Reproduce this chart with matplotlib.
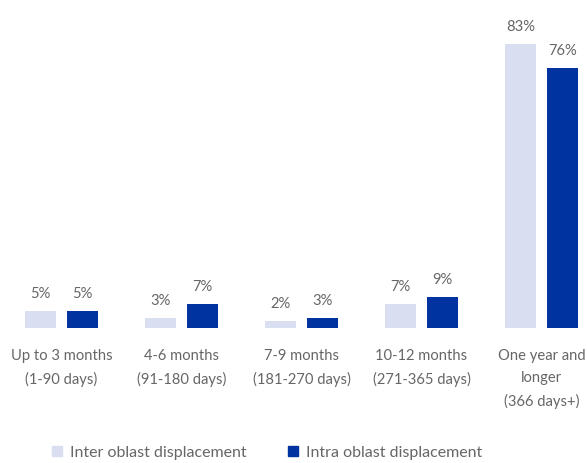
import matplotlib

matplotlib.use("Agg")
import matplotlib.pyplot as plt
import numpy as np
from matplotlib.patches import Patch

categories = [
    "Up to 3 months\n(1-90 days)",
    "4-6 months\n(91-180 days)",
    "7-9 months\n(181-270 days)",
    "10-12 months\n(271-365 days)",
    "One year and\nlonger\n(366 days+)",
]
inter_oblast = [5, 3, 2, 7, 83]
intra_oblast = [5, 7, 3, 9, 76]
series_names = ["Inter oblast displacement", "Intra oblast displacement"]

LIGHT = "#d9dff0"
DARK = "#0033a0"
GREY = "#666666"

plt.rcParams["font.family"] = ["Lato", "DejaVu Sans"]

fig = plt.figure(figsize=(5.87, 4.63), dpi=100)
ax = fig.add_axes([0, 0.2916, 1, 0.6648])

x = np.arange(len(categories))
w = 0.258
off = 0.175
b1 = ax.bar(x - off, inter_oblast, w, color=LIGHT)
b2 = ax.bar(x + off, intra_oblast, w, color=DARK)

for bars, vals in [(b1, inter_oblast), (b2, intra_oblast)]:
    for b, v in zip(bars, vals):
        ax.annotate(f"{v}%", (b.get_x() + b.get_width() / 2, v),
                    xytext=(0, 7), textcoords="offset points",
                    ha="center", va="bottom", fontsize=10.6, color=GREY)

ax.set_xlim(-0.5125, 4.379)
ax.set_ylim(0, 90)
ax.set_xticks(x)
ax.set_xticklabels(categories, fontsize=10.6, color=GREY, linespacing=1.75)
ax.tick_params(axis="x", length=0, pad=15)
ax.set_yticks([])
for s in ax.spines.values():
    s.set_visible(False)

handles = [Patch(color=LIGHT), Patch(color=DARK)]
fig.legend(handles, series_names, loc="center", bbox_to_anchor=(0.455, 0.022),
           ncol=2, frameon=False, fontsize=11.5, labelcolor=GREY,
           handlelength=0.6, handleheight=0.6, handletextpad=0.5,
           columnspacing=2.6)

fig.savefig("out.png", dpi=100)
